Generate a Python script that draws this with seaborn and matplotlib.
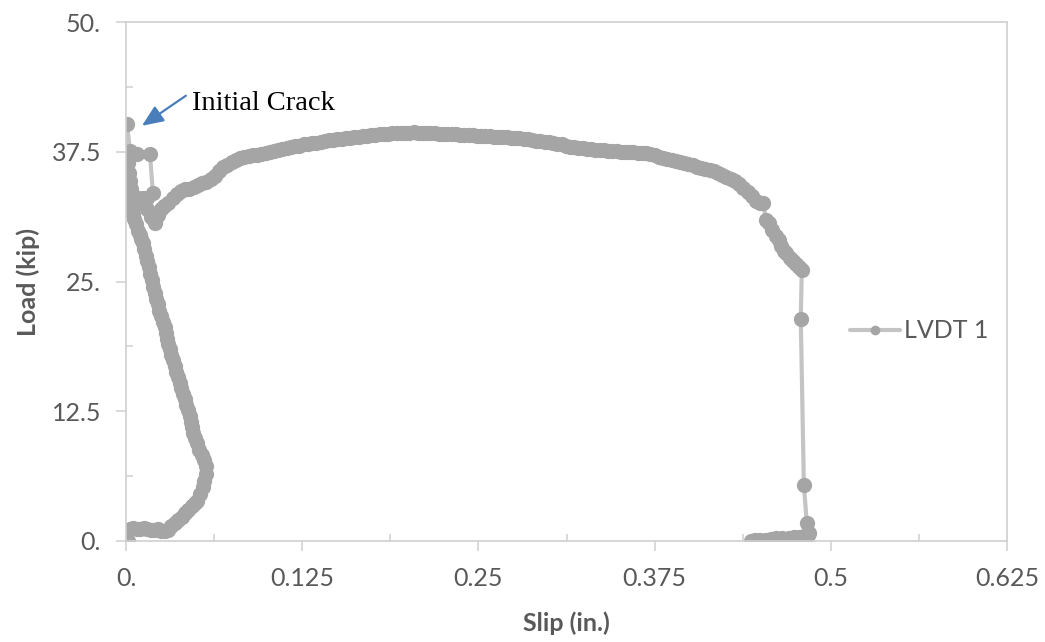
import numpy as np
import pandas as pd
import matplotlib
matplotlib.use("Agg")
import matplotlib.pyplot as plt
import seaborn as sns

# ---- LVDT 1 readings (slip in inches, load in kips), in recording order ----
# initial seating and loading branch
slip_loading = [0.0014, 0.0007, 0.0028, 0.0050, 0.0075, 0.0100, 0.0125, 0.0150, 0.0175,
                0.0200, 0.0225, 0.0250, 0.0275, 0.0300, 0.0320, 0.0347, 0.0370, 0.0395,
                0.0418, 0.0440, 0.0465, 0.0490, 0.0503, 0.0525, 0.0545, 0.0555, 0.0567,
                0.0565, 0.0555, 0.0540, 0.0520, 0.0503, 0.0490, 0.0478, 0.0467, 0.0460,
                0.0452, 0.0439, 0.0428, 0.0416, 0.0404, 0.0393, 0.0380, 0.0368, 0.0357,
                0.0345, 0.0333, 0.0322, 0.0310, 0.0297, 0.0290, 0.0283, 0.0276, 0.0262,
                0.0248, 0.0234, 0.0224, 0.0215, 0.0205, 0.0195, 0.0184, 0.0172, 0.0160,
                0.0149, 0.0140, 0.0130, 0.0120, 0.0108, 0.0097, 0.0085, 0.0072, 0.0060,
                0.0050, 0.0046, 0.0042, 0.0035, 0.0028, 0.0020, 0.0014, 0.0007]
load_loading = [0.0, 1.06, 1.2, 1.25, 1.2, 1.2, 1.25, 1.2, 1.1,
                1.1, 1.15, 1.0, 0.95, 1.1, 1.4, 1.7, 2.0, 2.3,
                2.7, 3.0, 3.4, 3.7, 3.9, 4.5, 5.2, 5.8, 6.5,
                7.2, 7.8, 8.3, 8.8, 9.4, 9.9, 10.4, 11.0, 11.5,
                12.0, 12.6, 13.1, 13.7, 14.2, 14.7, 15.2, 15.8, 16.3,
                16.9, 17.4, 17.9, 18.5, 19.0, 19.5, 20.0, 20.6, 21.1,
                21.7, 22.2, 22.8, 23.3, 23.9, 24.5, 25.1, 25.7, 26.4,
                27.0, 27.5, 28.1, 28.7, 29.1, 29.5, 29.9, 30.5, 31.0,
                31.5, 32.3, 33.1, 33.9, 34.7, 35.5, 36.4, 37.3]

# cracking and load drop
slip_crack = [0.0007, 0.0028, 0.0078, 0.0170, 0.0191, 0.0150, 0.0120, 0.0085,
              0.0110, 0.0150, 0.0180, 0.0205]
load_crack = [40.2, 37.6, 37.3, 37.3, 33.5, 33.0, 33.0, 33.0,
              32.6, 32.0, 31.2, 30.6]

# post-cracking slip plateau
slip_plateau = [0.023, 0.025, 0.027, 0.030, 0.033, 0.036, 0.039, 0.042, 0.045, 0.048,
                0.051, 0.054, 0.057, 0.060, 0.063, 0.066, 0.069, 0.072, 0.075, 0.078,
                0.081, 0.084, 0.087, 0.090, 0.093, 0.096, 0.099, 0.102, 0.105, 0.108,
                0.111, 0.114, 0.117, 0.120, 0.123, 0.126, 0.129, 0.132, 0.135, 0.138,
                0.141, 0.144, 0.147, 0.150, 0.153, 0.156, 0.159, 0.162, 0.165, 0.168,
                0.171, 0.174, 0.177, 0.180, 0.183, 0.186, 0.189, 0.192, 0.195, 0.198,
                0.201, 0.204, 0.207, 0.210, 0.213, 0.216, 0.219, 0.222, 0.225, 0.228,
                0.231, 0.234, 0.237, 0.240, 0.243, 0.246, 0.249, 0.252, 0.255, 0.258,
                0.261, 0.264, 0.267, 0.270, 0.273, 0.276, 0.279, 0.282, 0.285, 0.288,
                0.291, 0.294, 0.297, 0.300, 0.303, 0.306, 0.309, 0.312, 0.315, 0.318,
                0.321, 0.324, 0.327, 0.330, 0.333, 0.336, 0.339, 0.342, 0.345, 0.348,
                0.351, 0.354, 0.357, 0.360, 0.363, 0.366, 0.369, 0.372, 0.375, 0.378,
                0.381, 0.384, 0.387, 0.390, 0.393, 0.396, 0.399, 0.402, 0.405, 0.408,
                0.411, 0.414, 0.417, 0.420, 0.423, 0.426, 0.429, 0.432, 0.435, 0.438,
                0.441, 0.444, 0.447, 0.450, 0.452]
load_plateau = [31.4, 32.0, 32.3, 32.6, 33.0, 33.4, 33.7, 33.9, 33.9, 34.1,
                34.3, 34.5, 34.6, 34.9, 35.2, 35.6, 36.0, 36.2, 36.5, 36.7,
                36.9, 37.0, 37.1, 37.2, 37.2, 37.3, 37.4, 37.5, 37.6, 37.7,
                37.8, 37.9, 38.0, 38.1, 38.1, 38.2, 38.2, 38.3, 38.3, 38.4,
                38.5, 38.6, 38.6, 38.7, 38.7, 38.8, 38.8, 38.9, 38.9, 39.0,
                39.0, 39.1, 39.1, 39.2, 39.2, 39.2, 39.3, 39.3, 39.3, 39.3,
                39.3, 39.4, 39.3, 39.3, 39.3, 39.3, 39.3, 39.2, 39.2, 39.2,
                39.2, 39.2, 39.1, 39.1, 39.1, 39.1, 39.0, 39.0, 39.0, 39.0,
                38.9, 38.9, 38.9, 38.9, 38.8, 38.8, 38.8, 38.7, 38.7, 38.6,
                38.5, 38.5, 38.4, 38.4, 38.3, 38.2, 38.2, 38.1, 38.0, 38.0,
                37.9, 37.9, 37.8, 37.8, 37.7, 37.7, 37.7, 37.6, 37.6, 37.6,
                37.5, 37.5, 37.5, 37.5, 37.4, 37.4, 37.4, 37.3, 37.2, 37.0,
                36.9, 36.8, 36.7, 36.6, 36.5, 36.4, 36.3, 36.2, 36.0, 35.9,
                35.8, 35.7, 35.6, 35.5, 35.3, 35.1, 34.9, 34.7, 34.4, 34.0,
                33.6, 33.2, 32.8, 32.6, 32.6]

# softening, failure and unloading
slip_failure = [0.4540, 0.4560, 0.4585, 0.4610, 0.4630, 0.4650, 0.4668, 0.4681,
                0.4710, 0.4735, 0.4752, 0.4775, 0.4794, 0.4787, 0.4809, 0.4830,
                0.4844, 0.4835, 0.4810, 0.4773, 0.4740, 0.4700, 0.4653, 0.4610,
                0.4575, 0.4540, 0.4500, 0.4460, 0.4433]
load_failure = [30.9, 30.6, 30.0, 29.4, 29.0, 28.4, 27.9, 27.7,
                27.3, 27.0, 26.7, 26.4, 26.1, 21.4, 5.4, 1.7,
                0.8, 0.6, 0.5, 0.4, 0.35, 0.32, 0.29, 0.25,
                0.2, 0.12, 0.08, 0.05, 0.0]

x_ticks = [0.0, 0.125, 0.25, 0.375, 0.5, 0.625]
x_tick_labels = ["0.", "0.125", "0.25", "0.375", "0.5", "0.625"]
y_ticks = [0.0, 12.5, 25.0, 37.5, 50.0]
y_tick_labels = ["0.", "12.5", "25.", "37.5", "50."]

df = pd.DataFrame({
    "Slip (in.)": slip_loading + slip_crack + slip_plateau + slip_failure,
    "Load (kip)": load_loading + load_crack + load_plateau + load_failure,
})

sns.set_style("white")
plt.rcParams["font.family"] = ["Lato", "DejaVu Sans"]

TEXT_GREY = "#595959"
AXIS_GREY = "#d0d0d0"
SERIES_GREY = "#a5a5a5"
LINE_GREY = "#c4c4c4"

fig = plt.figure(figsize=(10.45, 6.42), dpi=100)
ax = fig.add_axes([126 / 1045, 1 - 541 / 642, (1007 - 126) / 1045, (541 - 22) / 642])

sns.lineplot(data=df, x="Slip (in.)", y="Load (kip)", sort=False, estimator=None,
             ax=ax, color=LINE_GREY, linewidth=3.0, marker="o", markersize=11,
             markerfacecolor=SERIES_GREY, markeredgecolor=SERIES_GREY,
             markeredgewidth=0, label="LVDT 1")

ax.set_xlim(0, 0.625)
ax.set_ylim(0, 50)
ax.set_xticks(x_ticks)
ax.set_xticklabels(x_tick_labels)
ax.set_yticks(y_ticks)
ax.set_yticklabels(y_tick_labels)
ax.set_xticks(np.arange(0.0625, 0.625, 0.125), minor=True)
ax.set_yticks(np.arange(6.25, 50, 12.5), minor=True)

ax.tick_params(which="major", direction="out", length=7, width=1.1, color=AXIS_GREY,
               labelsize=18, labelcolor=TEXT_GREY)
ax.tick_params(axis="y", which="major", pad=11)
ax.tick_params(axis="x", which="major", pad=12)
ax.tick_params(which="minor", direction="in", length=5, width=1.1, color=AXIS_GREY)
ax.tick_params(bottom=True, left=True, which="both")

for side in ["left", "right", "top", "bottom"]:
    ax.spines[side].set_visible(True)
    ax.spines[side].set_color(AXIS_GREY)
    ax.spines[side].set_linewidth(1.2)

ax.set_xlabel("Slip (in.)", fontsize=18, fontweight="bold", color=TEXT_GREY, labelpad=15)
ax.set_ylabel("Load (kip)", fontsize=18, fontweight="bold", color=TEXT_GREY, labelpad=8)

leg = ax.legend(loc="center left", bbox_to_anchor=(0.822, 0.405), frameon=False,
                fontsize=18, handlelength=2.0, handletextpad=0.15, borderaxespad=0,
                borderpad=0, labelcolor=TEXT_GREY)
for h in leg.legend_handles:
    h.set_markersize(7)
    h.set_linewidth(3.0)

# annotation of the first cracking load
ax.annotate("", xy=(0.0113, 40.0), xytext=(0.0425, 42.9),
            arrowprops=dict(arrowstyle="-|>,head_length=1.3,head_width=0.55",
                            color="#4a7ebb", lw=1.6, mutation_scale=10,
                            shrinkA=0, shrinkB=0))
ax.text(0.0465, 41.5, "Initial Crack", fontsize=20.5, color="black",
        family=["Liberation Serif", "DejaVu Serif"], va="baseline", ha="left")

fig.savefig("out.png", dpi=100, facecolor="white")
